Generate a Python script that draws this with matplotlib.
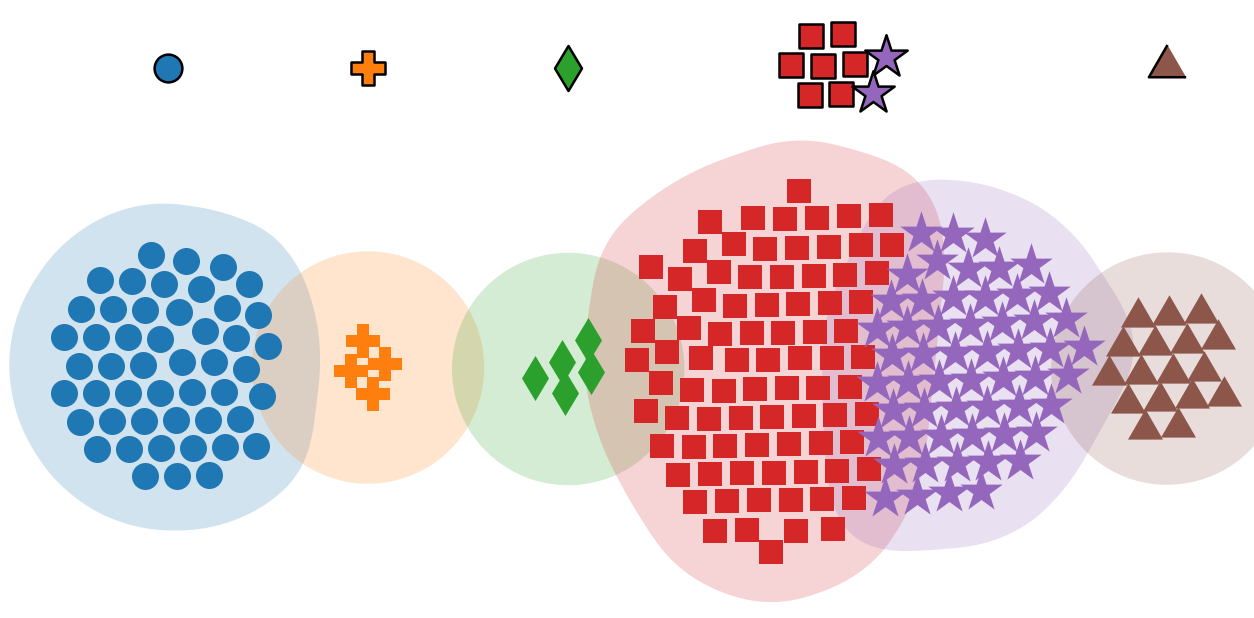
import numpy as np
import matplotlib
matplotlib.use("Agg")
import matplotlib.pyplot as plt
from matplotlib.patches import Polygon

# ---------------- data (pixel-like data coordinates) ----------------
blue_x = [151, 186, 223,
          100, 132, 164, 201, 249,
          81, 113, 145, 179, 227, 258,
          64, 96, 128, 160, 205, 236, 268,
          79, 111, 143, 182, 214, 246,
          64, 96, 128, 160, 192, 224, 262,
          80, 112, 144, 176, 208, 240,
          97, 129, 161, 193, 225, 256,
          145, 177, 209]
blue_y = [255, 261, 267,
          280, 281, 284, 289, 284,
          309, 309, 310, 312, 308, 315,
          337, 337, 337, 339, 331, 338, 346,
          366, 366, 365, 362, 362, 369,
          393, 393, 393, 393, 392, 392, 396,
          422, 421, 421, 420, 420, 419,
          449, 449, 448, 448, 447, 446,
          476, 476, 475]

orange_x = [363, 351, 385, 373]
orange_y = [341, 371, 364, 394]

green_x = [535, 562, 565, 588, 591]
green_y = [378, 362, 393, 340, 372]

red_x = [799,
         710, 753, 785, 817, 849, 881,
         695, 734, 765, 797, 829, 861, 892,
         651, 680, 719, 750, 782, 814, 845, 877,
         665, 704, 735, 767, 798, 830, 861,
         643, 689, 720, 752, 783, 815, 846,
         667, 637, 701, 737, 768, 800, 832, 863,
         661, 692, 724, 755, 787, 818, 850,
         646, 677, 709, 741, 772, 804, 835, 867,
         662, 694, 725, 757, 789, 821, 852,
         678, 710, 742, 774, 806, 837, 869,
         695, 727, 759, 791, 822, 854,
         715, 747, 796, 833,
         771]
red_y = [191,
         222, 218, 219, 218, 216, 215,
         251, 244, 249, 248, 247, 245, 245,
         267, 279, 272, 277, 277, 276, 275, 273,
         307, 300, 306, 305, 304, 303, 302,
         331, 328, 334, 333, 333, 332, 331,
         352, 360, 358, 360, 360, 358, 358, 357,
         383, 390, 391, 389, 388, 388, 387,
         411, 418, 419, 418, 417, 416, 415, 414,
         446, 447, 446, 445, 444, 443, 442,
         475, 474, 473, 473, 472, 471, 469,
         502, 501, 500, 500, 499, 498,
         531, 530, 531, 529,
         552]

purple_x = [921, 953, 985,
            907, 937, 968, 999, 1031,
            891, 922, 953, 985, 1017, 1049,
            877, 907, 938, 970, 1002, 1034, 1066,
            892, 923, 955, 987, 1018, 1050, 1084,
            877, 908, 939, 971, 1003, 1035, 1068,
            893, 924, 956, 987, 1019, 1051,
            878, 909, 941, 972, 1004, 1036,
            894, 925, 957, 988, 1020,
            885, 917, 949, 981]
purple_y = [233, 234, 239,
            275, 261, 269, 268, 265,
            301, 300, 297, 297, 295, 293,
            329, 327, 326, 325, 323, 321, 319,
            355, 354, 353, 352, 350, 349, 347,
            383, 382, 381, 380, 378, 377, 375,
            410, 409, 408, 407, 406, 405,
            438, 437, 436, 435, 434, 433,
            465, 464, 463, 462, 461,
            498, 496, 493, 491]

brown_x = [1138, 1169, 1201,
           1123, 1155, 1187, 1218,
           1109, 1141, 1173, 1204,
           1128, 1160, 1192, 1224,
           1145, 1178]
brown_y = [317, 315, 313,
           346, 345, 343, 339,
           375, 374, 373, 371,
           403, 401, 398, 396,
           429, 427]

# legend glyphs at the top
legend_circle_x, legend_circle_y = [168], [68]
legend_plus_x, legend_plus_y = [368], [68]
legend_diamond_x, legend_diamond_y = [568], [68]
legend_square_x = [811, 843, 791, 823, 855, 810, 841]
legend_square_y = [36, 34, 65, 66, 64, 95, 94]
legend_star_x, legend_star_y = [886, 873], [57, 93]
legend_tri_x, legend_tri_y = [1167], [66]

colors = ["#1f77b4", "#ff7f0e", "#2ca02c", "#d62728", "#9467bd", "#8c564b"]

# ---------------- figure ----------------
fig = plt.figure(figsize=(12.54, 6.18), dpi=100)
ax = fig.add_axes([0, 0, 1, 1])
ax.set_xlim(0, 1254)
ax.set_ylim(618, 0)
ax.axis("off")

tri = [(0, 1.1547), (-1, -0.57735), (1, -0.57735)]


def blob(xs, ys, pad=55, rmin=119, win=90.0):
    P = np.column_stack([xs, ys]).astype(float)
    c = P.mean(axis=0)
    th = np.linspace(0, 2 * np.pi, 1440, endpoint=False)
    U = np.column_stack([np.cos(th), np.sin(th)])
    proj = U @ P.T
    idx = proj.argmax(axis=1)
    hp = proj.max(axis=1) + pad
    hc = U @ c + rmin
    pts = np.where((hp >= hc)[:, None], P[idx] + pad * U, c + rmin * U)
    # resample by arc length, then smooth with a circular moving average
    closed = np.vstack([pts, pts[:1]])
    seg = np.hypot(*np.diff(closed, axis=0).T)
    cum = np.concatenate([[0], np.cumsum(seg)])
    L = cum[-1]
    n = 1000
    t = np.linspace(0, L, n, endpoint=False)
    rx = np.interp(t, cum, closed[:, 0])
    ry = np.interp(t, cum, closed[:, 1])
    k = max(1, int(win / (L / n)))
    ker = np.ones(k) / k
    sx = np.convolve(np.concatenate([rx[-k:], rx, rx[:k]]), ker, mode="same")[k:-k]
    sy = np.convolve(np.concatenate([ry[-k:], ry, ry[:k]]), ker, mode="same")[k:-k]
    return np.column_stack([sx, sy])


clusters = [
    (blue_x, blue_y, "o", 378),
    (orange_x, orange_y, "P", 565),
    (green_x, green_y, "d", 525),
    (red_x, red_y, "s", 299),
    (purple_x, purple_y, "*", 1031),
    (brown_x, brown_y, tri, 847),
]

for (xs, ys, m, s), col in zip(clusters, colors):
    ax.add_patch(Polygon(blob(xs, ys), closed=True, facecolor=col,
                         alpha=0.2, edgecolor="none", zorder=1))

for i, ((xs, ys, m, s), col) in enumerate(zip(clusters, colors)):
    ax.scatter(xs, ys, s=s, marker=m, c=col, linewidths=0, zorder=2 + i)

legend_sets = [
    (legend_circle_x, legend_circle_y, "o", 400, colors[0]),
    (legend_plus_x, legend_plus_y, "P", 565, colors[1]),
    (legend_diamond_x, legend_diamond_y, "d", 525, colors[2]),
    (legend_square_x, legend_square_y, "s", 299, colors[3]),
    (legend_star_x, legend_star_y, "*", 1031, colors[4]),
    (legend_tri_x, legend_tri_y, tri, 960, colors[5]),
]
for i, (xs, ys, m, s, col) in enumerate(legend_sets):
    ax.scatter(xs, ys, s=s, marker=m, c=col, edgecolors="black",
               linewidths=1.8, zorder=10 + i)

fig.savefig("out.png", dpi=100, facecolor="white")
